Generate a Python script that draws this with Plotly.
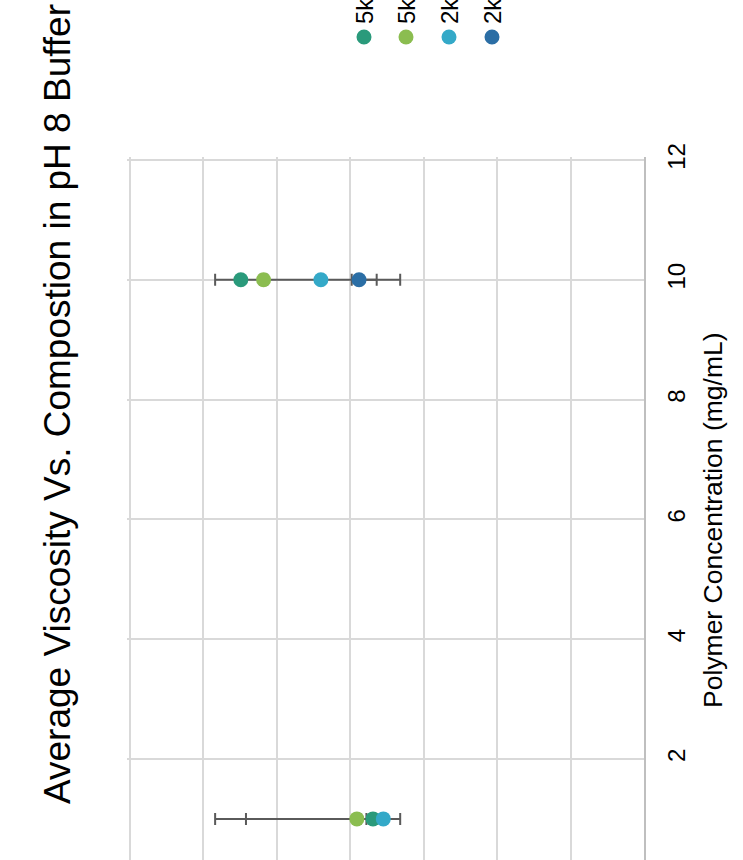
import plotly.graph_objects as go

# Polymer concentration (mg/mL) for each measurement
concentration = [1, 10]

# Series labels and colours
series_names = ["5k", "5k", "2k", "2k"]
series_colors = ["#2a9a7b", "#8bbd50", "#34a9c8", "#2b6ea5"]

# Average viscosity per series at each concentration
viscosity = [
    [3.69, 5.49],
    [3.91, 5.18],
    [3.55, 4.40],
    [None, 3.88],
]

# Error bar extents (plus = towards higher viscosity)
err_plus = [
    [2.15, 0.35],
    [1.51, 0.05],
    [0.23, 0.76],
    [0.0, 0.10],
]
err_minus = [
    [0.10, 0.35],
    [0.05, 0.05],
    [0.23, 0.76],
    [0.0, 0.56],
]

conc_ticks = [2, 4, 6, 8, 10, 12]

W, H = 743, 860
L, R, T, B = 127, 99, 157, 0
plot_w = W - L - R
plot_h = H - T - B

fig = go.Figure()

# Error bars first so every marker sits on top of them
for vals, ep, em in zip(viscosity, err_plus, err_minus):
    fig.add_trace(go.Scatter(
        x=vals, y=concentration, mode="markers",
        marker=dict(size=15, opacity=0),
        error_x=dict(type="data", symmetric=False, array=ep, arrayminus=em,
                     color="#5a5a5a", thickness=2, width=6),
        showlegend=False, hoverinfo="skip",
    ))

for name, color, vals in zip(series_names, series_colors, viscosity):
    fig.add_trace(go.Scatter(
        x=vals, y=concentration, mode="markers", name=name,
        marker=dict(size=15, color=color, line=dict(width=0)),
        showlegend=False,
    ))

def px_x(px):
    return (px - L) / plot_w

def px_y(py):
    return 1 - (py - T) / plot_h

annotations = [
    dict(text="Average Viscosity Vs. Compostion in pH 8 Buffer",
         x=px_x(57), y=px_y(404), xref="paper", yref="paper",
         xanchor="center", yanchor="middle", textangle=-90, showarrow=False,
         font=dict(family="Liberation Sans, Arial", size=37, color="#000000")),
    dict(text="Polymer Concentration (mg/mL)",
         x=px_x(713), y=px_y(520), xref="paper", yref="paper",
         xanchor="center", yanchor="middle", textangle=-90, showarrow=False,
         font=dict(family="Liberation Sans, Arial", size=26.5, color="#000000")),
]

shapes = []
legend_x = [364, 406, 449, 492]
for name, color, lx in zip(series_names, series_colors, legend_x):
    annotations.append(dict(
        text=name, x=px_x(lx), y=px_y(26), xref="paper", yref="paper",
        xanchor="center", yanchor="bottom", textangle=-90, showarrow=False,
        font=dict(family="Liberation Sans, Arial", size=24, color="#000000")))
    shapes.append(dict(
        type="circle", xref="paper", yref="paper",
        xsizemode="pixel", ysizemode="pixel",
        xanchor=px_x(lx), yanchor=px_y(37),
        x0=-7.5, x1=7.5, y0=-7.5, y1=7.5,
        fillcolor=color, line=dict(width=0)))

fig.update_layout(
    width=W, height=H,
    margin=dict(l=L, r=R, t=T, b=B, pad=0),
    paper_bgcolor="#ffffff", plot_bgcolor="#ffffff",
    showlegend=False,
    annotations=annotations,
    shapes=shapes,
    xaxis=dict(
        range=[7.04, 0], dtick=1, tick0=0,
        showgrid=True, gridcolor="#d9d9d9", gridwidth=2,
        zeroline=False, showline=False, showticklabels=False, ticks="",
        automargin=False,
    ),
    yaxis=dict(
        side="right", range=[0.314, 12.05],
        tickvals=conc_ticks, ticktext=[str(v) for v in conc_ticks],
        tickangle=-90, ticks="", ticklabelstandoff=10,
        tickfont=dict(family="Liberation Sans, Arial", size=24, color="#000000"),
        showgrid=True, gridcolor="#d9d9d9", gridwidth=2,
        zeroline=False, showline=True, linecolor="#bfbfbf", linewidth=2,
        automargin=False,
    ),
)

fig.write_html("out.html")
